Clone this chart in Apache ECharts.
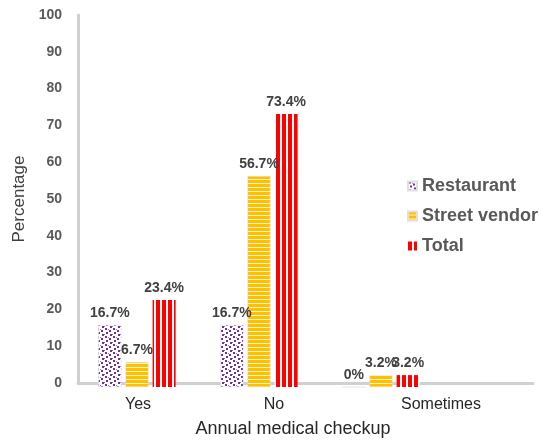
<!DOCTYPE html>
<html>
<head>
<meta charset="utf-8">
<script src="https://cdn.jsdelivr.net/npm/echarts@6/dist/echarts.min.js"></script>
<style>
  html, body { margin: 0; padding: 0; background: #fff; }
  #chart { width: 547px; height: 443px; }
</style>
</head>
<body>
<div id="chart"></div>
<script>
var categories = ['Yes', 'No', 'Sometimes'];
var restaurant = [16.7, 16.7, 0];
var streetVendor = [6.7, 56.7, 3.2];
var total = [23.4, 73.4, 3.2];
var yTicks = [0, 10, 20, 30, 40, 50, 60, 70, 80, 90, 100];

// little canvas fills, the way the Excel patterns look
function dotsPattern() {
    var c = document.createElement('canvas');
    c.width = 8; c.height = 8;
    var ctx = c.getContext('2d');
    ctx.fillStyle = '#fff';
    ctx.fillRect(0, 0, 8, 8);
    ctx.fillStyle = '#7030a0';
    ctx.fillRect(1, 0, 2, 2);
    ctx.fillRect(5, 2, 2, 2);
    ctx.fillRect(2, 4, 2, 2);
    ctx.fillRect(6, 6, 2, 2);
    ctx.fillStyle = '#9b6cc4';
    ctx.fillRect(0, 6, 1, 1);
    ctx.fillRect(4, 1, 1, 1);
    return c;
}
function hStripes() {
    var c = document.createElement('canvas');
    c.width = 4; c.height = 4;
    var ctx = c.getContext('2d');
    ctx.fillStyle = '#ffc000';
    ctx.fillRect(0, 0, 4, 4);
    ctx.fillStyle = '#fff4cc';
    ctx.fillRect(0, 3, 4, 1);
    return c;
}
function vStripes() {
    var c = document.createElement('canvas');
    c.width = 6; c.height = 4;
    var ctx = c.getContext('2d');
    ctx.fillStyle = '#ff0000';
    ctx.fillRect(0, 0, 6, 4);
    ctx.fillStyle = '#ffffff';
    ctx.fillRect(4, 0, 2, 4);
    return c;
}

var chart = echarts.init(document.getElementById('chart'));
var labelStyle = {
    show: true,
    position: 'top',
    distance: 5,
    formatter: '{c}%',
    fontFamily: 'Arial, "Liberation Sans"',
    fontWeight: 'bold',
    fontSize: 14,
    color: '#404040'
};
var option = {
    backgroundColor: '#fff',
    textStyle: { fontFamily: 'Arial, "Liberation Sans"' },
    legend: {
        orient: 'vertical',
        left: 402,
        top: 172,
        itemWidth: 9,
        itemHeight: 9,
        itemGap: 12,
        icon: 'rect',
        textStyle: { fontSize: 18, fontWeight: 'bold', color: '#595959' },
        data: ['Restaurant', 'Street vendor', 'Total']
    },
    grid: [
        { left: 76, top: 15, width: 366, bottom: 56 },
        { left: 78, top: 15, right: 14, bottom: 56 }
    ],
    xAxis: [{
        type: 'category',
        gridIndex: 0,
        data: [
            { value: categories[0], textStyle: { padding: [0, 0, 0, 2] } },
            { value: categories[1], textStyle: { padding: [0, 0, 0, 30] } },
            { value: categories[2], textStyle: { padding: [0, 0, 6, 120] } }
        ],
        axisLine: { show: false },
        axisTick: { show: false },
        axisLabel: { fontSize: 16, color: '#262626', margin: 10 }
    }, {
        type: 'category',
        gridIndex: 1,
        data: categories,
        name: 'Annual medical checkup',
        nameLocation: 'middle',
        nameGap: 37,
        nameTextStyle: { fontSize: 18, color: '#262626', padding: [0, 25, 0, 0] },
        axisLine: { show: true, lineStyle: { color: '#d0d0d0', width: 3 } },
        axisTick: { show: false },
        axisLabel: { show: false }
    }],
    yAxis: [{
        type: 'value',
        gridIndex: 0,
        min: 0, max: 100, interval: 10,
        show: false
    }, {
        type: 'value',
        gridIndex: 1,
        min: yTicks[0], max: yTicks[yTicks.length - 1], interval: 10,
        name: 'Percentage',
        nameLocation: 'middle',
        nameGap: 42,
        nameTextStyle: { fontSize: 17, color: '#404040' },
        axisLine: { show: true, lineStyle: { color: '#d0d0d0', width: 3 } },
        axisTick: { show: false },
        splitLine: { show: false },
        axisLabel: { fontSize: 14, fontWeight: 'bold', color: '#595959', margin: 16 }
    }],
    series: [{
        name: 'Restaurant',
        type: 'bar',
        xAxisIndex: 0, yAxisIndex: 0,
        barWidth: 23,
        barGap: '18%',
        data: restaurant,
        itemStyle: { color: { image: dotsPattern(), repeat: 'repeat' }, borderColor: '#e0e0e0', borderWidth: 0.5 },
        label: labelStyle
    }, {
        name: 'Street vendor',
        type: 'bar',
        xAxisIndex: 0, yAxisIndex: 0,
        barWidth: 23,
        barGap: '18%',
        data: streetVendor,
        itemStyle: { color: { image: hStripes(), repeat: 'repeat' }, borderColor: '#e0e0e0', borderWidth: 0.5 },
        label: labelStyle
    }, {
        name: 'Total',
        type: 'bar',
        xAxisIndex: 0, yAxisIndex: 0,
        barWidth: 23,
        barGap: '18%',
        data: total,
        itemStyle: { color: { image: vStripes(), repeat: 'repeat' } },
        label: labelStyle
    }]
};
chart.setOption(option);
</script>
</body>
</html>
